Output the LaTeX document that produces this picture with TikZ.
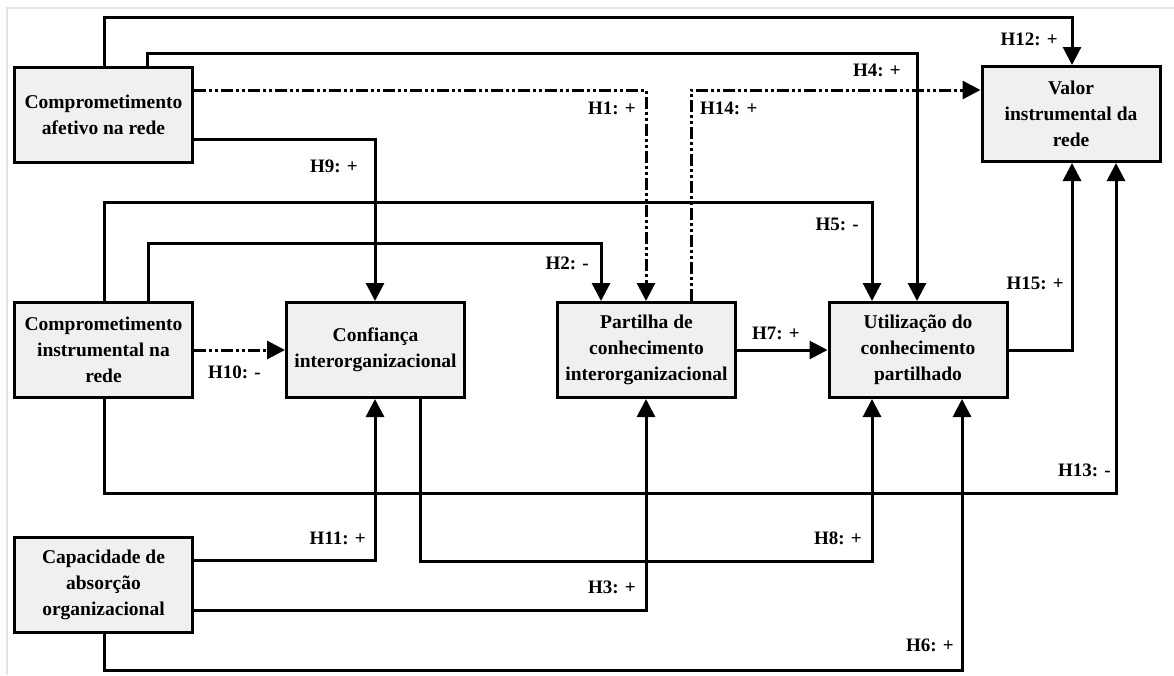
\documentclass[tikz,border=0pt]{standalone}
\usepackage{fontspec}
\setmainfont{Liberation Serif}
\usetikzlibrary{arrows.meta}
\begin{document}
\begin{tikzpicture}[x=1pt,y=-1pt,
  box/.style={draw=black, line width=3pt, fill=gray!12, minimum width=178pt,
    minimum height=95pt, inner sep=0pt, align=center,
    font=\fontsize{19.5}{26}\selectfont\bfseries},
  conn/.style={draw=black, line width=3pt},
  arr/.style={conn, -{Triangle[length=18pt,width=18pt]}},
  dashdot/.style={dash pattern=on 12pt off 3pt on 3pt off 3pt on 3pt off 3pt},
  hyp/.style={font=\fontsize{19}{22}\selectfont\bfseries, inner sep=0pt}]
\useasboundingbox (0,0) rectangle (1174,675);
% page frame
\draw[gray!22, line width=2pt] (7,675) -- (7,8) -- (1174,8);

% constructs
\node[box] (A) at (103.5,115) {Comprometimento\\afetivo na rede};
\node[box] (B) at (103.5,350) {Comprometimento\\instrumental na\\rede};
\node[box] (G) at (103.5,584.5) {Capacidade de\\absorção\\organizacional};
\node[box] (C) at (375.5,350) {Confiança\\interorganizacional};
\node[box] (D) at (646.5,350) {Partilha de\\conhecimento\\interorganizacional};
\node[box] (E) at (918,350) {Utilização do\\conhecimento\\partilhado};
\node[box] (F) at (1071,114) {Valor\\instrumental da\\rede};

% hypotheses
\draw[arr] (A.north -| 104,0) -- (104,17) -| (F.north -| 1072,0);
\draw[arr] (A.north -| 147,0) -- (147,53) -| (E.north -| 917,0);
\draw[arr, dashdot] (A.east |- 0,90) -| (D.north -| 646,0);
\draw[arr, dashdot] (D.north -| 691,0) |- (F.west |- 0,90);
\draw[arr] (A.east |- 0,139) -| (C.north -| 375,0);
\draw[arr] (B.north -| 104,0) -- (104,202) -| (E.north -| 872,0);
\draw[arr] (B.north -| 148,0) -- (148,243) -| (D.north -| 601,0);
\draw[arr, dashdot] (B.east) -- (C.west);
\draw[arr] (D.east) -- (E.west);
\draw[arr] (E.east) -| (F.south -| 1072,0);
\draw[arr] (B.south -| 104,0) -- (104,493) -| (F.south -| 1116,0);
\draw[arr] (C.south -| 420,0) -- (420,561) -| (E.south -| 872,0);
\draw[arr] (G.east |- 0,560) -| (C.south -| 375,0);
\draw[arr] (G.east |- 0,610) -| (D.south -| 646,0);
\draw[arr] (G.south -| 104,0) -- (104,670) -| (E.south -| 962,0);

% hypothesis labels
\node[hyp, anchor=east] (l12) at (1058,39) {H12: +};
\node[hyp, anchor=east] (l4) at (901,70) {H4: +};
\node[hyp, anchor=east] (l1) at (636,108) {H1: +};
\node[hyp, anchor=west] (l14) at (700,108) {H14: +};
\node[hyp, anchor=east] (l9) at (358,166) {H9: +};
\node[hyp, anchor=east] (l5) at (859,224) {H5: -};
\node[hyp, anchor=east] (l2) at (589,263) {H2: -};
\node[hyp, anchor=east] (l15) at (1064,283) {H15: +};
\node[hyp, anchor=east] (l10) at (261,372) {H10: -};
\node[hyp, anchor=east] (l7) at (800,333) {H7: +};
\node[hyp, anchor=east] (l13) at (1111,470) {H13: -};
\node[hyp, anchor=east] (l11) at (366,538) {H11: +};
\node[hyp, anchor=east] (l8) at (862,538) {H8: +};
\node[hyp, anchor=east] (l3) at (636,587) {H3: +};
\node[hyp, anchor=east] (l6) at (954,645) {H6: +};
\end{tikzpicture}
\end{document}
